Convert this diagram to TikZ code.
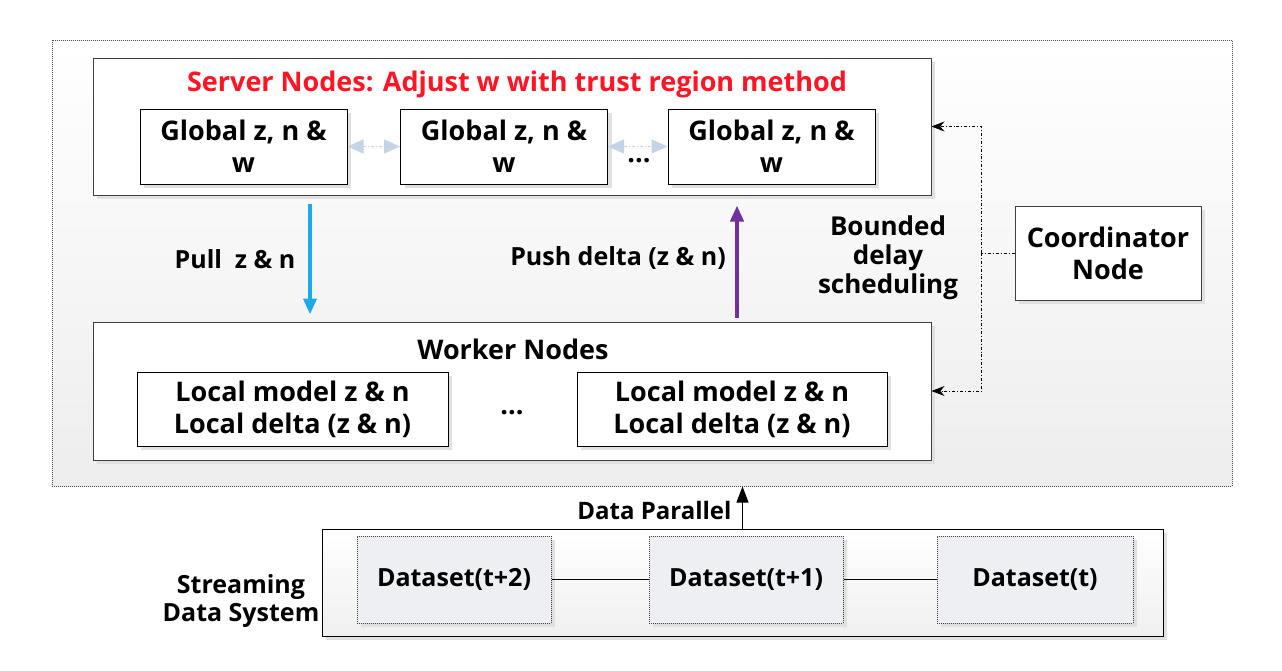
\documentclass[tikz,border=0pt]{standalone}
\usepackage{fontspec}
\setmainfont{Open Sans}
\usetikzlibrary{arrows.meta,shadows,positioning}
\definecolor{pushcol}{RGB}{112,48,160}
\definecolor{pullcol}{RGB}{28,170,235}
\definecolor{linkcol}{RGB}{197,211,230}
\definecolor{titlecol}{RGB}{255,20,35}
\definecolor{setcol}{RGB}{237,239,243}
\begin{document}
\begin{tikzpicture}[x=1pt, y=-1pt, line width=1pt,
  font=\bfseries\fontsize{27}{32}\selectfont,
  shade/.style={drop shadow={shadow xshift=4pt, shadow yshift=-4pt, fill=black!12, opacity=1}},
  bigbox/.style={draw=black!75, fill=white, inner sep=0pt, shade},
  inbox/.style={draw=black, fill=white, inner sep=0pt, align=center, shade},
  setbox/.style={draw=black!75, densely dotted, fill=setcol, inner sep=0pt, shade},
  link/.style={linkcol, dash dot, {Triangle[length=16pt,width=14pt]}-{Triangle[length=16pt,width=14pt]}},
  sched/.style={line width=0.8pt, dash dot, -{Stealth[length=13pt,width=10pt]}},
  label/.style={align=center, inner sep=0pt},
  small/.style={font=\bfseries\fontsize{25}{28}\selectfont}]
\useasboundingbox (0,0) rectangle (1282,670);
% Nodos
\node [draw=black!70, densely dotted, top color=white, bottom color=black!7, minimum width=1180pt, minimum height=446pt] (Sys) at (642,263) {};
\node [bigbox, minimum width=838pt, minimum height=137pt] (Srv) at (512,126.5) {};
\node [label, text=titlecol] (SrvT) at (517,84) {Server Nodes: Adjust w with trust region method};
\node [inbox, minimum width=207pt, minimum height=75pt] (G1) at (243.5,146.5) {Global z, n \&\\w};
\node [inbox, minimum width=207pt, minimum height=75pt] (G2) at (504,146.5) {Global z, n \&\\w};
\node [inbox, minimum width=207pt, minimum height=75pt] (G3) at (771.5,146.5) {Global z, n \&\\w};
\node [label] (GDots) at (639,161) {...};

\node [bigbox, minimum width=838pt, minimum height=138pt] (Wrk) at (512,391) {};
\node [label] (WrkT) at (513,349) {Worker Nodes};
\node [inbox, minimum width=311pt, minimum height=74pt] (L1) at (292.5,409) {Local model z \& n\\Local delta (z \& n)};
\node [inbox, minimum width=310pt, minimum height=74pt] (L2) at (732,409) {Local model z \& n\\Local delta (z \& n)};
\node [label] (LDots) at (512,413) {...};

\node [bigbox, align=center, minimum width=186pt, minimum height=94pt] (Crd) at (1108,253) {Coordinator\\Node};
\coordinate (Fork) at (981,253);
\node [label, font=\bfseries\fontsize{26}{29}\selectfont] (Sch) at (888,258) {Bounded\\delay\\scheduling};

\node [label, small] (Pull) at (235,259) {Pull\ \ z \& n};
\node [label, small] (Push) at (618,258) {Push delta (z \& n)};

\node [draw=black, top color=white, bottom color=black!6, minimum width=841pt, minimum height=107pt, shade] (Str) at (742.5,582.5) {};
\node [label, small] (StrT) at (241,601) {Streaming\\Data System};
\node [setbox, minimum width=194pt, minimum height=87pt] (D1) at (454,579.5) {};
\node [setbox, minimum width=194pt, minimum height=87pt] (D2) at (746,579.5) {};
\node [setbox, minimum width=196pt, minimum height=87pt] (D3) at (1035,579.5) {};
\node [label, small] at (D1) {Dataset(t+2)};
\node [label, small] at (D2) {Dataset(t+1)};
\node [label, small] at (D3) {Dataset(t)};
\node [label, font=\bfseries\fontsize{24}{28}\selectfont, anchor=east] (Par) at (732,510) {Data Parallel};
% Ejes
\path (G1) edge [link] (G2);
\path (G2) edge [link] (G3);
\draw [pullcol, line width=4pt, -{Triangle[length=16pt,width=13pt]}] ([xshift=-202pt,yshift=-8pt]Srv.south) -- ([xshift=-202pt,yshift=7pt]Wrk.north);
\draw [pushcol, line width=4pt, -{Triangle[length=16pt,width=13pt]}] ([xshift=225pt,yshift=4pt]Wrk.north) -- ([xshift=225pt,yshift=-10pt]Srv.south);
\draw [line width=0.8pt, dash dot] (Crd.west) -- (Fork);
\draw [sched] (Fork) |- (Srv.east);
\draw [sched] (Fork) |- (Wrk.east);
\draw [line width=0.8pt] (D1) -- (D2);
\draw [line width=0.8pt] (D2) -- (D3);
\draw [line width=1pt, -{Triangle[length=16pt,width=12pt]}] (Str.north) -- (Str.north |- Sys.south);
\end{tikzpicture}
\end{document}
